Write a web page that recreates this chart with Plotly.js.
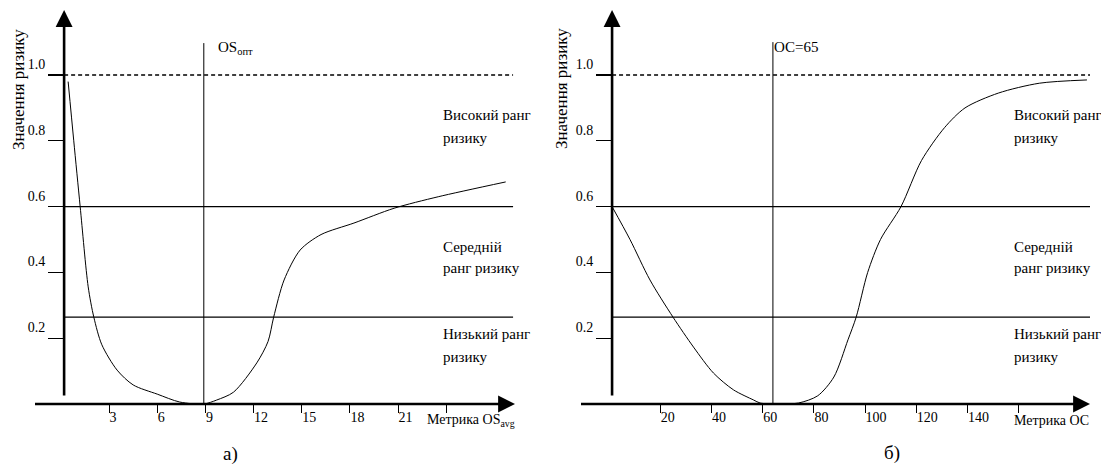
<!DOCTYPE html>
<html>
<head>
<meta charset="utf-8">
<script src="https://cdn.plot.ly/plotly-3.0.1.min.js"></script>
<style>html,body{margin:0;padding:0;background:#fff;}#chart{width:1101px;height:465px;}</style>
</head>
<body>
<div id="chart"></div>
<script>
// ---- data ----
var leftX = [0.45, 0.8, 1.2, 1.7, 2.05, 2.55, 3.5, 4.5, 6, 7.4, 8.9, 9.7, 10.75, 12.2, 12.9, 13.25, 13.9, 14.9, 16.2, 18.25, 20.75, 23.5, 27.7];
var leftY = [0.98, 0.8, 0.6, 0.356, 0.264, 0.18, 0.103, 0.058, 0.03, 0.006, 0.0, 0.012, 0.036, 0.125, 0.19, 0.264, 0.377, 0.468, 0.515, 0.55, 0.595, 0.63, 0.675];
var rightX = [1.2, 8.2, 16, 25, 33, 40.8, 48.6, 56.5, 59, 66, 74, 81.5, 87.8, 93.3, 96.5, 101, 106, 114, 122, 131, 139, 152, 168, 186.6];
var rightY = [0.6, 0.5, 0.377, 0.264, 0.173, 0.094, 0.043, 0.012, 0.003, 0, 0.003, 0.025, 0.082, 0.195, 0.264, 0.4, 0.5, 0.6, 0.74, 0.84, 0.9, 0.945, 0.975, 0.985];

var leftTickVals = [3, 6, 9, 12, 15, 18, 21, 24];
var leftTickText = ['3', '6', '9', '12', '15', '18', '21', ''];
var rightTickVals = [20, 40, 60, 80, 100, 120, 140, 160];
var rightTickText = ['20', '40', '60', '80', '100', '120', '140', ''];
var yTickVals = [0.2, 0.4, 0.6, 0.8, 1.0];
var yTickText = ['0.2', '0.4', '0.6', '0.8', '1.0'];

var thresholdMax = 1.0;     // dashed
var thresholdHigh = 0.6;    // high / medium boundary
var thresholdLow = 0.264;   // medium / low boundary
var leftOptimum = 8.9;      // OS_опт
var rightOptimum = 64;      // OC=65 line as drawn

var yTitle = 'Значення ризику';
var leftXTitle = 'Метрика OS<sub>avg</sub>';
var rightXTitle = 'Метрика ОС';
var leftVLabel = 'OS<sub>опт</sub>';
var rightVLabel = 'ОС=65';
var zoneLines = [['Високий ранг', 'ризику'], ['Середній', 'ранг ризику'], ['Низький ранг', 'ризику']];
var panelLabels = ['а)', 'б)'];

// ---- geometry helpers ----
var W = 1101, H = 465;
function px(x) { return x / W; }
function py(y) { return 1 - y / H; }

var xL = [-1.8, 28.28], xR = [-12.1, 187.8];
var yR = [0, 1.1976];
var yAxisL = 0.2, yAxisR = 1.2;
var FONT = '"Liberation Serif", "Times New Roman", serif';

var traces = [
  {x: leftX, y: leftY, xaxis: 'x', yaxis: 'y', mode: 'lines', line: {color: '#000', width: 1, shape: 'spline', smoothing: 0.8}, hoverinfo: 'skip'},
  {x: rightX, y: rightY, xaxis: 'x2', yaxis: 'y2', mode: 'lines', line: {color: '#000', width: 1, shape: 'spline', smoothing: 0.8}, hoverinfo: 'skip'}
];

function hline(xa, ya, x0, x1, y, dash, w) {
  return {type: 'line', xref: xa, yref: ya, x0: x0, x1: x1, y0: y, y1: y, line: {color: '#000', width: w, dash: dash}};
}
function vline(xa, ya, x, y0, y1) {
  return {type: 'line', xref: xa, yref: ya, x0: x, x1: x, y0: y0, y1: y1, line: {color: '#000', width: 1}};
}

var shapes = [
  hline('x', 'y', yAxisL, 28.16, thresholdMax, '4px,3px', 1.3),
  hline('x', 'y', yAxisL, 28.16, thresholdHigh, 'solid', 1.3),
  hline('x', 'y', yAxisL, 28.16, thresholdLow, 'solid', 1.3),
  vline('x', 'y', leftOptimum, 0, 1.097),
  hline('x2', 'y2', yAxisR, 187.8, thresholdMax, '4px,3px', 1.3),
  hline('x2', 'y2', yAxisR, 187.8, thresholdHigh, 'solid', 1.3),
  hline('x2', 'y2', yAxisR, 187.8, thresholdLow, 'solid', 1.3),
  vline('x2', 'y2', rightOptimum, 0, 1.1)
];

function arrow(xa, ya, x, y, ax, ay) {
  return {xref: xa, yref: ya, axref: xa, ayref: ya, x: x, y: y, ax: ax, ay: ay, text: ' ', showarrow: true,
          arrowhead: 2, arrowsize: 1.3, arrowwidth: 2.6, arrowcolor: '#000', standoff: 0, startstandoff: 0};
}
function txt(x, y, t, size, opts) {
  var a = {xref: 'paper', yref: 'paper', x: px(x), y: py(y), text: t, showarrow: false,
           xanchor: 'left', yanchor: 'middle', font: {family: FONT, size: size, color: '#000'}};
  if (opts) for (var k in opts) a[k] = opts[k];
  return a;
}

var zoneY = [[115, 138], [247, 268], [334, 357]];
var annotations = [
  arrow('x', 'y', xL[1], 0, xL[0], 0),
  arrow('x', 'y', yAxisL, yR[1], yAxisL, 0),
  arrow('x2', 'y2', xR[1], 0, xR[0], 0),
  arrow('x2', 'y2', yAxisR, yR[1], yAxisR, 0),
  txt(18, 90, yTitle, 17, {textangle: -90, xanchor: 'center'}),
  txt(561, 89, yTitle, 17, {textangle: -90, xanchor: 'center'}),
  txt(425, 420, leftXTitle, 14),
  txt(1012, 420, rightXTitle, 14),
  txt(216, 48, leftVLabel, 15),
  txt(772, 47, rightVLabel, 15),
  txt(230, 454, panelLabels[0], 19, {xanchor: 'center'}),
  txt(892, 453, panelLabels[1], 19, {xanchor: 'center'})
];
for (var i = 0; i < zoneLines.length; i++) {
  for (var j = 0; j < 2; j++) {
    annotations.push(txt(441, zoneY[i][j], zoneLines[i][j], 15));
    annotations.push(txt(1012, zoneY[i][j], zoneLines[i][j], 15));
  }
}

function xax(dom, rng, vals, text) {
  return {domain: dom, range: rng, showgrid: false, zeroline: false, showline: false,
          ticks: 'outside', ticklen: 8, tickwidth: 1, tickcolor: '#000',
          tickvals: vals, ticktext: text, ticklabelposition: 'outside right',
          tickfont: {family: FONT, size: 14, color: '#000'}, fixedrange: true};
}
function yax(pos) {
  return {domain: [61 / H, 455 / H], range: yR, anchor: 'free', position: pos,
          showgrid: false, zeroline: false, showline: false,
          ticks: 'outside', ticklen: 16, tickwidth: 1.2, tickcolor: '#000',
          tickvals: yTickVals, ticktext: yTickText, ticklabelshift: -11, ticklabelstandoff: 0,
          tickfont: {family: FONT, size: 14, color: '#000'}, fixedrange: true};
}

var layout = {
  width: W, height: H,
  margin: {l: 0, r: 0, t: 0, b: 0},
  paper_bgcolor: '#fff', plot_bgcolor: 'rgba(0,0,0,0)',
  showlegend: false,
  font: {family: FONT, color: '#000'},
  xaxis: Object.assign(xax([32 / W, 515 / W], xL, leftTickVals, leftTickText), {anchor: 'y'}),
  yaxis: yax(64 / W),
  xaxis2: Object.assign(xax([578 / W, 1090 / W], xR, rightTickVals, rightTickText), {anchor: 'y2'}),
  yaxis2: yax(612 / W),
  shapes: shapes,
  annotations: annotations
};

Plotly.newPlot('chart', traces, layout, {staticPlot: true, displayModeBar: false});
</script>
</body>
</html>
